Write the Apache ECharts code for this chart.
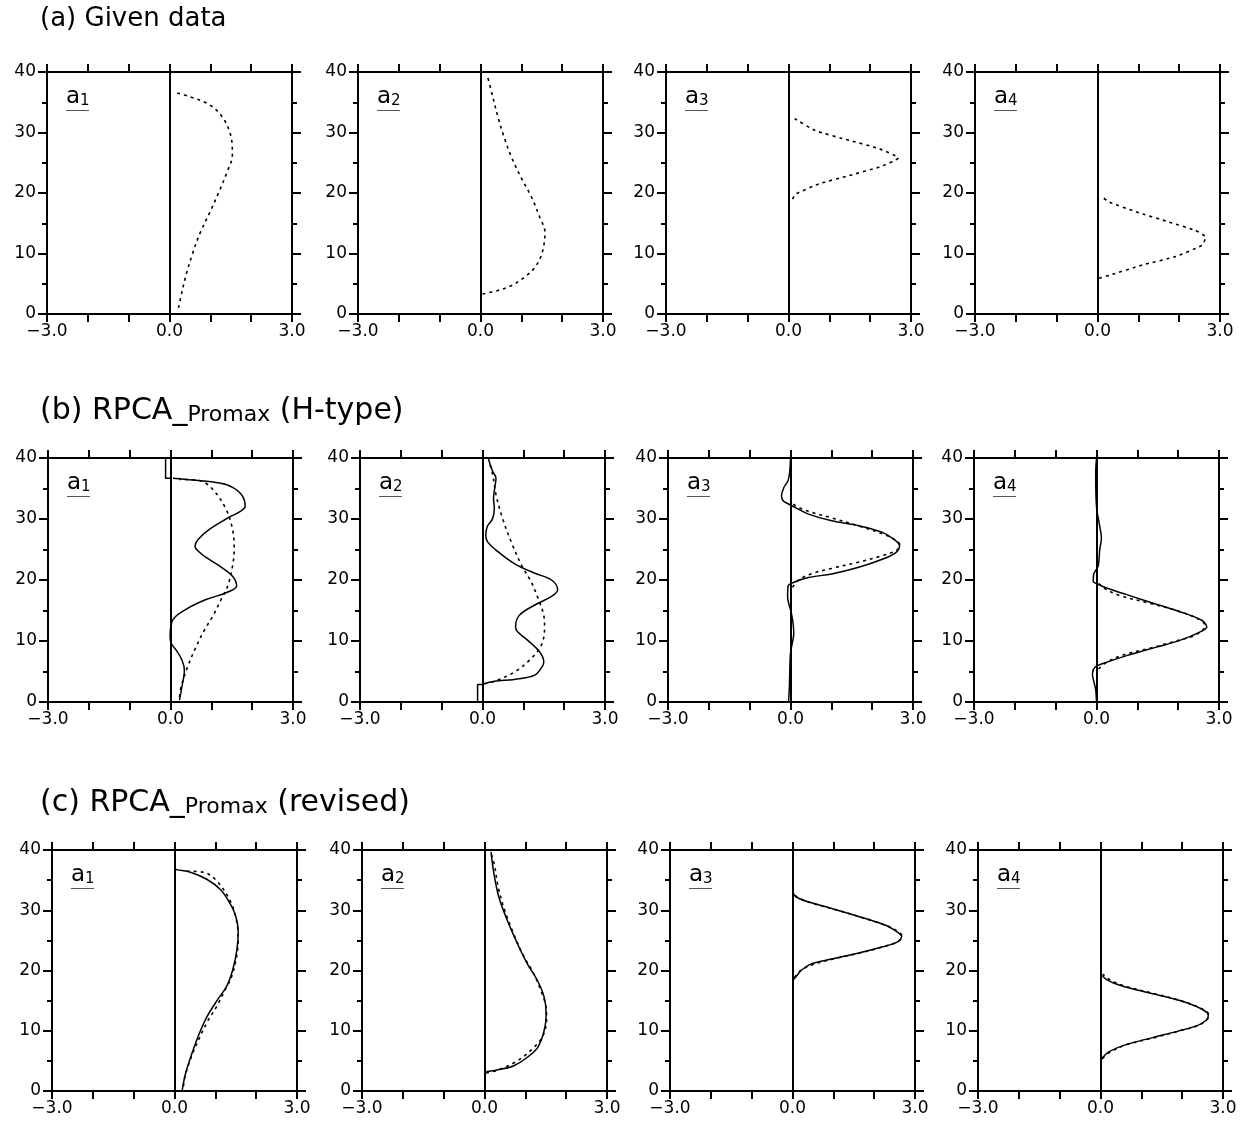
<!DOCTYPE html>
<html>
<head>
<meta charset="utf-8">
<script src="https://cdn.jsdelivr.net/npm/echarts@6/dist/echarts.min.js"></script>
<style>html,body{margin:0;padding:0;background:#fff}#c{width:1256px;height:1125px}</style>
</head>
<body>
<div id="c"></div>
<script>
// ---------- DATA (x = loading, y = level) ----------
const sectionTitles = ['(a) Given data', '(b) RPCA_Promax (H-type)', '(c) RPCA_Promax (revised)'];
const panelNames = ['1', '2', '3', '4'];
const xTickLabels = [-3, 0, 3];
const yTickLabels = [0, 10, 20, 30, 40];

// given data as drawn in row (a) (dashed)
const given1 = [[0.22,1.0],[0.30,3.5],[0.42,6.8],[0.57,10.1],[0.75,13.4],[0.98,16.7],[1.20,20.0],[1.40,23.3],[1.54,26.3],[1.50,29.5],[1.28,32.7],[0.95,34.7],[0.50,35.9],[0.15,36.6]];
const given2 = [[0.05,3.3],[0.43,3.9],[0.76,4.7],[1.08,6.1],[1.33,7.7],[1.50,9.9],[1.58,13.5],[1.45,16.0],[1.25,19.3],[0.99,22.6],[0.76,25.9],[0.58,29.2],[0.43,32.5],[0.30,35.9],[0.16,39.6]];
const given3 = [[0.10,19.0],[0.17,19.8],[0.74,21.5],[1.49,22.9],[2.23,24.3],[2.69,25.8],[2.23,27.3],[1.49,28.7],[0.66,30.3],[0.15,32.3]];
const given4 = [[0.04,5.9],[0.29,6.4],[1.10,8.1],[1.92,9.5],[2.57,11.4],[2.65,12.7],[2.40,13.8],[1.75,15.2],[0.94,16.9],[0.29,18.5],[0.10,19.4]];

// given data as drawn (dashed) in rows (b) and (c)
const givenB1 = [[0.22,0.8],[0.26,2.5],[0.42,5.8],[0.63,9.1],[0.83,11.8],[1.03,14.0],[1.24,16.8],[1.40,19.0],[1.52,22.3],[1.56,25.0],[1.52,28.3],[1.36,31.6],[1.03,34.9],[0.71,36.3],[0.22,36.5]];
const givenB2 = [[0.04,3.0],[0.29,3.4],[0.78,4.9],[1.19,7.1],[1.44,9.3],[1.52,12.1],[1.50,14.2],[1.36,17.0],[1.19,19.7],[0.95,22.5],[0.70,26.3],[0.49,30.1],[0.33,34.0],[0.25,37.3],[0.16,39.5]];
const givenB3 = [[0.05,18.8],[0.20,20.0],[0.50,21.0],[1.00,21.9],[1.65,22.9],[2.20,23.9],[2.58,24.8],[2.68,25.7],[2.58,26.5],[2.28,27.5],[1.70,28.8],[1.00,30.2],[0.42,31.3],[0.12,32.2],[0.03,32.7]];
const givenB4 = [[0.05,5.4],[0.22,6.4],[0.65,7.7],[1.35,8.9],[1.90,9.9],[2.40,10.9],[2.60,11.8],[2.66,12.5],[2.55,13.4],[2.05,14.8],[1.35,16.1],[0.55,17.5],[0.20,18.6],[0.06,19.4]];

// RPCA Promax H-type (solid)
const htype1 = [[0.22,0.3],[0.28,2.5],[0.34,5.2],[0.28,6.9],[0.14,8.5],[0.02,9.6],[-0.01,10.7],[0.06,13.5],[0.38,15.2],[0.87,16.8],[1.36,17.9],[1.62,19.0],[1.52,20.6],[1.20,22.3],[0.87,23.7],[0.67,24.8],[0.60,25.5],[0.67,26.6],[0.95,28.3],[1.36,30.0],[1.72,31.3],[1.83,32.1],[1.76,33.8],[1.52,35.2],[1.20,35.9],[0.54,36.4],[0.06,36.7]];
const htype1Step = [[0.0,36.7],[-0.12,36.7],[-0.12,40]];
const htype2 = [[0.0,2.9],[0.29,3.4],[0.78,3.7],[1.28,4.4],[1.48,6.0],[1.50,6.6],[1.40,8.2],[1.11,10.1],[0.86,11.5],[0.81,12.3],[0.90,14.2],[1.28,15.9],[1.69,17.3],[1.84,18.4],[1.69,20.0],[1.28,21.1],[0.78,22.7],[0.37,24.7],[0.12,26.3],[0.08,27.4],[0.12,28.8],[0.25,30.1],[0.29,31.8],[0.27,33.4],[0.30,35.1],[0.33,36.7],[0.25,37.8],[0.16,39.5],[0.15,40]];
const htype2Step = [[-0.12,0],[-0.12,2.85],[0.0,2.85]];
const htype3 = [[-0.05,0],[-0.03,2],[-0.02,4.3],[0.0,8],[0.08,11.4],[0.06,13],[0.02,14.6],[-0.07,17.3],[-0.06,19],[0.07,19.6],[0.44,20.4],[1.01,21],[1.67,22.1],[2.25,23.4],[2.58,24.5],[2.67,25.6],[2.58,26.4],[2.25,27.8],[1.67,28.9],[1.01,29.7],[0.44,30.8],[0.11,31.9],[-0.06,32.5],[-0.18,33],[-0.22,33.8],[-0.16,35.2],[-0.06,36.3],[-0.02,37.7],[0,40]];
const htype4 = [[0,0],[-0.02,2],[-0.07,3.5],[-0.10,4.6],[-0.04,5.7],[0.16,6.3],[0.74,7.6],[1.47,9],[2.04,10.1],[2.54,11.5],[2.70,12.3],[2.58,13.4],[2.04,14.8],[1.39,16.2],[0.74,17.6],[0.25,18.7],[0.04,19.3],[-0.08,19.8],[-0.07,20.9],[0.04,22.3],[0.08,25],[0.12,26.9],[0.08,28.8],[0,32],[-0.02,37.5],[0,40]];

// RPCA Promax revised (solid)
const revised1 = [[0.19,0.2],[0.27,2.9],[0.40,5.7],[0.58,9.1],[0.80,12.4],[1.06,15.2],[1.28,17.4],[1.43,20.2],[1.53,23.5],[1.56,26.5],[1.50,29.0],[1.37,31.0],[1.13,33.4],[0.80,35.1],[0.39,36.3],[0.07,36.7],[0.0,36.8]];
const revised2 = [[0.04,3.2],[0.40,3.6],[0.72,4.2],[1.05,5.6],[1.30,7.2],[1.46,10.0],[1.51,12.8],[1.46,15.6],[1.30,18.3],[1.05,21.1],[0.81,24.4],[0.56,28.3],[0.35,32.2],[0.23,36.1],[0.16,39.7]];
const revised3 = [[0,18.3],[0.09,19],[0.21,20],[0.46,21.1],[0.96,21.9],[1.62,22.9],[2.19,23.9],[2.56,24.7],[2.67,25.7],[2.56,26.4],[2.28,27.5],[1.70,28.8],[0.96,30.3],[0.38,31.4],[0.09,32.2],[0,33]];
const revised4 = [[0,4.8],[0.06,5.6],[0.20,6.5],[0.62,7.7],[1.30,8.9],[1.88,9.9],[2.38,10.9],[2.58,11.7],[2.64,12.5],[2.53,13.4],[2.04,14.8],[1.31,16.1],[0.49,17.5],[0.15,18.5],[0,19.4]];

// ---------- LAYOUT ----------
const rowTop = [72, 458, 850];
const rowH = [242, 244, 241];
const colLeft = [[47,358,666,975],[48,360,668,974],[52,362,670,978]];
const panelW = 245;
const titleY = [21, 413, 805];

const FONT = 'DejaVu Sans';
const grids = [], xAxes = [], yAxes = [], series = [], graphics = [];

const dashedSets = [[given1, given2, given3, given4], [givenB1, givenB2, givenB3, givenB4], [givenB1, givenB2, givenB3, givenB4]];
const solids = [null, [htype1, htype2, htype3, htype4], [revised1, revised2, revised3, revised4]];
const steps = [htype1Step, htype2Step, null, null];

const fmtX = v => xTickLabels.indexOf(v) >= 0 ? v.toFixed(1).replace('-', '\u2212') : '';
const tickStyle = {color: '#000', width: 2};

for (let r = 0; r < 3; r++) {
  for (let c = 0; c < 4; c++) {
    const gi = grids.length;
    const left = colLeft[r][c], top = rowTop[r], h = rowH[r];
    grids.push({left: left, top: top, width: panelW, height: h});
    const axisLine = {show: true, onZero: false, lineStyle: {color: '#000', width: 2}};
    xAxes.push({type: 'value', gridIndex: gi, min: -3, max: 3, interval: 1, position: 'bottom',
      axisLine: axisLine, splitLine: {show: false},
      axisTick: {show: true, inside: false, length: 8, lineStyle: tickStyle},
      axisLabel: {show: true, formatter: fmtX, color: '#000', fontFamily: FONT, fontSize: 17, margin: 9, showMinLabel: true, showMaxLabel: true}});
    xAxes.push({type: 'value', gridIndex: gi, min: -3, max: 3, interval: 1, position: 'top',
      axisLine: axisLine, splitLine: {show: false},
      axisTick: {show: true, inside: false, length: 8, lineStyle: tickStyle},
      axisLabel: {show: false}});
    yAxes.push({type: 'value', gridIndex: gi, min: 0, max: 40, interval: 10, position: 'left',
      axisLine: axisLine, splitLine: {show: false},
      axisTick: {show: true, inside: false, length: 9, lineStyle: tickStyle},
      minorTick: {show: true, splitNumber: 2, length: 5, lineStyle: tickStyle},
      minorSplitLine: {show: false},
      axisLabel: {show: true, color: '#000', fontFamily: FONT, fontSize: 17, margin: 11,
        formatter: v => yTickLabels.indexOf(v) >= 0 ? String(v) : ''}});
    yAxes.push({type: 'value', gridIndex: gi, min: 0, max: 40, interval: 10, position: 'right',
      axisLine: axisLine, splitLine: {show: false},
      axisTick: {show: true, inside: false, length: 9, lineStyle: tickStyle},
      minorTick: {show: true, splitNumber: 2, length: 5, lineStyle: tickStyle},
      minorSplitLine: {show: false},
      axisLabel: {show: false}});

    const xi = gi * 2, yi = gi * 2;
    const sm = (r === 0 && c >= 2) ? 0.15 : 0.35;
    series.push({type: 'line', xAxisIndex: xi, yAxisIndex: yi, data: dashedSets[r][c], smooth: sm,
      symbol: 'none', silent: true, z: 3,
      lineStyle: {color: '#000', width: 1.6, type: [3, 4]},
      markLine: {silent: true, symbol: 'none', label: {show: false},
        lineStyle: {color: '#000', width: 2, type: 'solid'}, data: [{xAxis: 0}]}});
    if (solids[r]) {
      series.push({type: 'line', xAxisIndex: xi, yAxisIndex: yi, data: solids[r][c], smooth: 0.35,
        symbol: 'none', silent: true, z: 4,
        lineStyle: {color: '#000', width: 1.5, type: 'solid'}});
    }
    if (r === 1 && steps[c]) {
      series.push({type: 'line', xAxisIndex: xi, yAxisIndex: yi, data: steps[c], smooth: false,
        symbol: 'none', silent: true, z: 4,
        lineStyle: {color: '#000', width: 1.5, type: 'solid'}});
    }
    // panel label a1..a4
    graphics.push({type: 'text', left: left + 19, top: top + 14, z: 10,
      style: {text: '{a|a}{s|' + panelNames[c] + '}', rich: {
        a: {fontFamily: FONT, fontSize: 23, fill: '#000', verticalAlign: 'bottom', lineHeight: 23},
        s: {fontFamily: FONT, fontSize: 15, fill: '#000', verticalAlign: 'bottom', lineHeight: 20}}}});
    graphics.push({type: 'rect', z: 10, shape: {x: left + 19, y: top + 38, width: 23, height: 1},
      style: {fill: '#555'}});
  }
  // section title
  const t = sectionTitles[r];
  let rich, big = 26, small = 19;
  if (t.indexOf('Promax') >= 0) {
    const parts = t.split('Promax');
    rich = '{b|' + parts[0] + '}{s|Promax}{b|' + parts[1] + '}';
    big = 30; small = 22;
  } else {
    rich = '{b|' + t + '}';
  }
  graphics.push({type: 'text', left: 40, top: titleY[r] - big / 2 - 2, z: 10,
    style: {text: rich, rich: {
      b: {fontFamily: FONT, fontSize: big, fill: '#000', verticalAlign: 'bottom', lineHeight: big + 4},
      s: {fontFamily: FONT, fontSize: small, fill: '#000', verticalAlign: 'bottom', lineHeight: big}}}});
}

const chart = echarts.init(document.getElementById('c'), null, {renderer: 'canvas'});
chart.setOption({
  animation: false,
  backgroundColor: '#fff',
  grid: grids, xAxis: xAxes, yAxis: yAxes, series: series, graphic: graphics
});
</script>
</body>
</html>
